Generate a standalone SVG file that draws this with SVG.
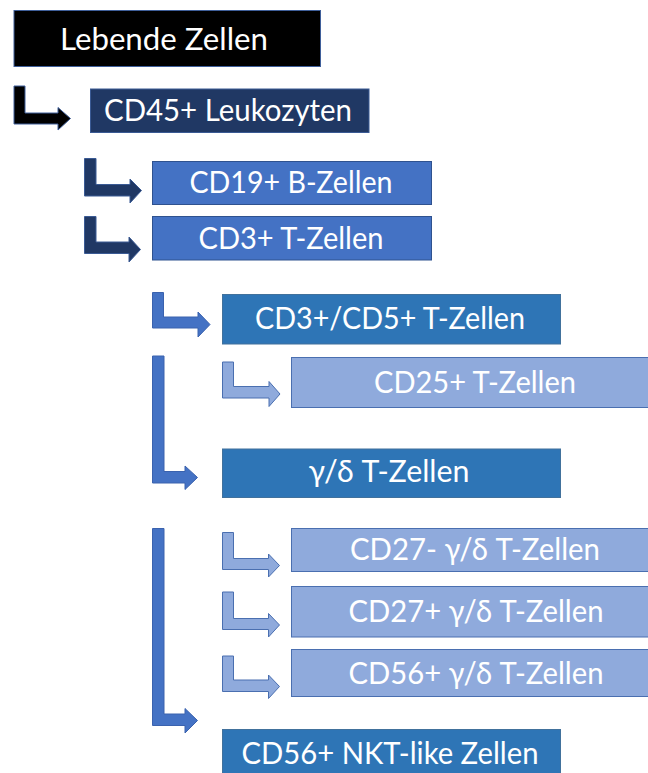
<svg xmlns="http://www.w3.org/2000/svg" width="648" height="773" viewBox="0 0 648 773">
<style>
.t{font-family:Lato,"Liberation Sans",sans-serif;font-size:30px;fill:#ffffff;text-anchor:middle}
.b0{fill:#000000;stroke:#3f5f9a;stroke-width:1}
.b1{fill:#203864;stroke:#3a5a94;stroke-width:1}
.b2{fill:#4472c4;stroke:#2f528f;stroke-width:1}
.b3{fill:#2e75b6;stroke:#41719c;stroke-width:1}
.b4{fill:#8faadc;stroke:#4a6fb0;stroke-width:1}
.a0{fill:#000000;stroke:#3f5f9a;stroke-width:1}
.a1{fill:#203864;stroke:#3a5a94;stroke-width:1}
.a2{fill:#4472c4;stroke:#3a62ae;stroke-width:1}
.a4{fill:#8faadc;stroke:#4a6fb0;stroke-width:1}
</style>
<rect width="648" height="773" fill="#ffffff"/>
<g id="connectors">
<path class="a0" d="M14,86 H25 V113 H58 V107.5 L70.5,118.5 L58,130 V124 H14 Z"/>
<path class="a1" d="M84.5,158.5 H96 V184.5 H130 V179 L141.5,190.5 L130,203 V196 H84.5 Z"/>
<path class="a1" d="M84.5,216.5 H96 V242 H129 V237 L140.5,249.5 L129,262 V253.5 H84.5 Z"/>
<path class="a2" d="M152.5,292.5 H163.5 V317 H198 V312 L210,324.5 L198,337 V328 H152.5 Z"/>
<path class="a4" d="M222.5,362 H233.5 V386.5 H269 V381.5 L280,394 L269,406.5 V398 H222.5 Z"/>
<path class="a2" d="M152.5,356 H164 V471.5 H185 V466 L197.5,477.5 L185,489.5 V483 H152.5 Z"/>
<path class="a4" d="M222.5,532.5 H233.5 V558.5 H268.5 V554 L279.5,565.5 L268.5,577 V569.5 H222.5 Z"/>
<path class="a4" d="M222.5,592 H233.5 V618.5 H268.5 V613.5 L279.5,625 L268.5,637 V629.5 H222.5 Z"/>
<path class="a4" d="M222.5,656 H233.5 V680 H268.5 V675 L279.5,686.5 L268.5,698.5 V691.5 H222.5 Z"/>
<path class="a2" d="M152.5,528.5 H164 V714 H185 V708.5 L197.5,720.5 L185,733 V725.5 H152.5 Z"/>
</g>
<g id="lebende">
<rect class="b0" x="14" y="10.5" width="306.5" height="56"/>
<text class="t" x="164" y="50" textLength="208" lengthAdjust="spacingAndGlyphs">Lebende Zellen</text>
</g>
<g id="cd45">
<rect class="b1" x="90.5" y="89" width="278.5" height="43.5"/>
<text class="t" x="228" y="120.5" textLength="248" lengthAdjust="spacingAndGlyphs">CD45+ Leukozyten</text>
</g>
<g id="cd19">
<rect class="b2" x="152.5" y="161.5" width="279" height="43"/>
<text class="t" x="291" y="193" textLength="203" lengthAdjust="spacingAndGlyphs">CD19+ B-Zellen</text>
</g>
<g id="cd3">
<rect class="b2" x="152.5" y="216.5" width="279" height="43.5"/>
<text class="t" x="291" y="248.5" textLength="185" lengthAdjust="spacingAndGlyphs">CD3+ T-Zellen</text>
</g>
<g id="cd3cd5">
<rect class="b3" x="222.5" y="294.5" width="338" height="49.5"/>
<text class="t" x="390" y="329" textLength="270" lengthAdjust="spacingAndGlyphs">CD3+/CD5+ T-Zellen</text>
</g>
<g id="cd25">
<rect class="b4" x="291.5" y="357.5" width="370" height="50"/>
<text class="t" x="475" y="393" textLength="202" lengthAdjust="spacingAndGlyphs">CD25+ T-Zellen</text>
</g>
<g id="gd">
<rect class="b3" x="222.5" y="449" width="338" height="48.5"/>
<text class="t" x="389" y="482" textLength="161" lengthAdjust="spacingAndGlyphs">γ/δ T-Zellen</text>
</g>
<g id="cd27neg">
<rect class="b4" x="291.5" y="528.5" width="370" height="43"/>
<text class="t" x="475" y="560" textLength="250" lengthAdjust="spacingAndGlyphs">CD27- γ/δ T-Zellen</text>
</g>
<g id="cd27pos">
<rect class="b4" x="291.5" y="586.5" width="370" height="50.5"/>
<text class="t" x="476" y="621.5" textLength="255" lengthAdjust="spacingAndGlyphs">CD27+ γ/δ T-Zellen</text>
</g>
<g id="cd56gd">
<rect class="b4" x="291.5" y="649.5" width="370" height="47"/>
<text class="t" x="476" y="683.5" textLength="255" lengthAdjust="spacingAndGlyphs">CD56+ γ/δ T-Zellen</text>
</g>
<g id="nkt">
<rect class="b3" x="222.5" y="729.5" width="338" height="50"/>
<text class="t" x="390" y="763.5" textLength="297" lengthAdjust="spacingAndGlyphs">CD56+ NKT-like Zellen</text>
</g>
</svg>
